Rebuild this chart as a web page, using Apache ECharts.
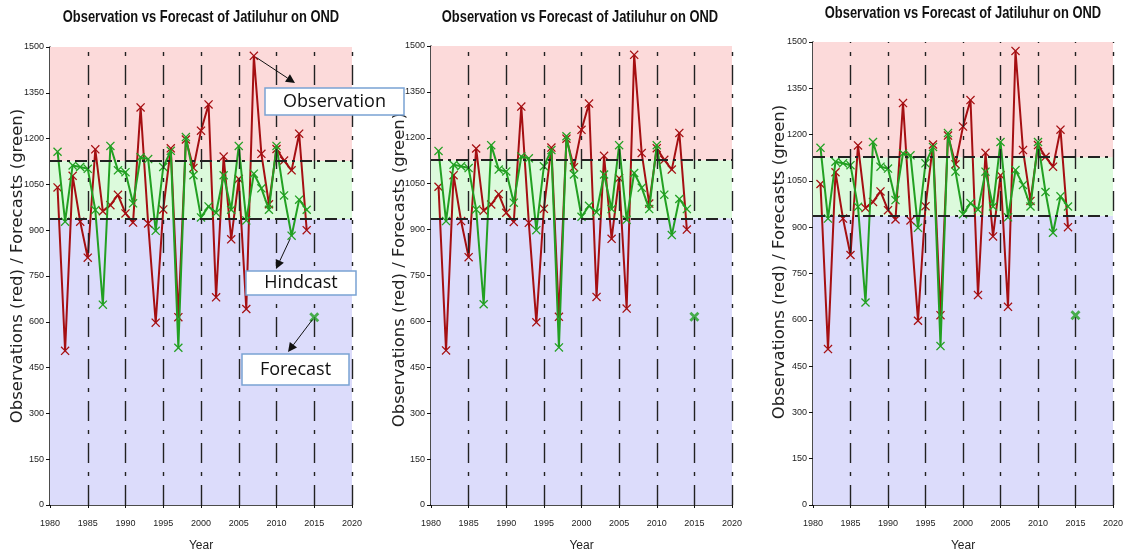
<!DOCTYPE html>
<html><head><meta charset="utf-8">
<script src="https://cdn.jsdelivr.net/npm/echarts@6/dist/echarts.min.js"></script>
<style>html,body{margin:0;padding:0;background:#fff}#c{width:1128px;height:557px}</style>
</head><body><div id="c"></div>
<script>
const titleText = 'Observation vs Forecast of Jatiluhur on OND';
const yName = 'Observations (red) / Forecasts (green)';
const xName = 'Year';
const years = [1981,1982,1983,1984,1985,1986,1987,1988,1989,1990,1991,1992,1993,1994,1995,1996,1997,1998,1999,2000,2001,2002,2003,2004,2005,2006,2007,2008,2009,2010,2011,2012,2013,2014];
const observed = [1040,505,1078,928,810,1165,962,982,1016,955,925,1302,922,597,968,1168,615,1197,1104,1226,1312,680,1141,870,1068,642,1471,1150,985,1166,1128,1096,1216,900];
const hindcast = [1157,928,1112,1107,1101,966,656,1176,1096,1090,988,1139,1133,898,1107,1160,515,1205,1080,942,978,957,1080,967,1176,932,1085,1037,967,1176,1014,882,1000,967];
const forecastYear = [2015];
const forecastValue = [615];
const thresholds = [937, 1127];
const yMin = 0, yMax = 1500, yStep = 150;
const xMin = 1980, xMax = 2020, xStep = 5;
const gridLines = [1985,1990,1995,2000,2005,2010,2015,2020];

const panels = [
  {left:50, right:776, top:47, bottom:44, title:201, titleTop:17, nameX:18, nameY:266},
  {left:431, right:396, top:46, bottom:46, title:580, titleTop:17, nameX:400, nameY:270},
  {left:813, right:15, top:42, bottom:50, title:963, titleTop:13, nameX:780, nameY:262}
];

const XSYM = 'path://M1,0L5,4L9,0L10,1L6,5L10,9L9,10L5,6L1,10L0,9L4,5L0,1Z';
const XSYM_B = 'path://M2,0L5,3L8,0L10,2L7,5L10,8L8,10L5,7L2,10L0,8L3,5L0,2Z';
const RED = '#a50f12', GREEN = '#22a022';
const sans = '"Liberation Sans", Arial, sans-serif';

const obsData = years.map((y,i)=>[y, observed[i]]);
const hindData = years.map((y,i)=>[y, hindcast[i]]);
const fcData = forecastYear.map((y,i)=>[y, forecastValue[i]]);

const option = {
  animation:false,
  backgroundColor:'#fff',
  grid: panels.map(p=>({left:p.left, right:p.right, top:p.top, bottom:p.bottom, containLabel:false})),
  xAxis: panels.map((p,i)=>({type:'value', gridIndex:i, min:xMin, max:xMax, interval:xStep,
    name:xName, nameLocation:'middle', nameGap:35,
    nameTextStyle:{fontFamily:sans, fontSize:12, color:'#222'},
    axisLine:{show:true, onZero:false, lineStyle:{color:'#111', width:1.5}},
    axisTick:{show:true, length:3, lineStyle:{color:'#111'}},
    axisLabel:{fontFamily:sans, fontSize:9, color:'#222', margin:14, formatter:v=>String(v)},
    splitLine:{show:false}})),
  yAxis: panels.map((p,i)=>({type:'value', gridIndex:i, min:yMin, max:yMax, interval:yStep,
    axisLine:{show:true, lineStyle:{color:'#111', width:1.5}},
    axisTick:{show:true, length:4, lineStyle:{color:'#111'}},
    axisLabel:{fontFamily:sans, fontSize:9, color:'#222', margin:6, formatter:v=>String(v)},
    splitLine:{show:false}})),
  series: []
};

panels.forEach((p,i)=>{
  option.series.push({
    type:'line', xAxisIndex:i, yAxisIndex:i, data:[], silent:true, z:1,
    markArea:{silent:true, itemStyle:{opacity:1},
      data:[
        [{yAxis:yMin, itemStyle:{color:'#dcdcfb'}},{yAxis:thresholds[0]}],
        [{yAxis:thresholds[0], itemStyle:{color:'#dcfadc'}},{yAxis:thresholds[1]}],
        [{yAxis:thresholds[1], itemStyle:{color:'#fcdada'}},{yAxis:yMax}]
      ]},
    markLine:{silent:true, symbol:['none','none'], label:{show:false},
      data: gridLines.map(x=>({xAxis:x, lineStyle:{color:'#222', width:1.4, type:[20,9,4,9]}}))
        .concat(thresholds.map(t=>({yAxis:t, lineStyle:{color:'#222', width:2, type:[12,5,3,5]}})))}
  });
  option.series.push({
    type:'line', xAxisIndex:i, yAxisIndex:i, data:obsData, z:3,
    lineStyle:{color:RED, width:2}, itemStyle:{color:RED},
    symbol:XSYM, symbolSize:9, showSymbol:true
  });
  option.series.push({
    type:'line', xAxisIndex:i, yAxisIndex:i, data:hindData, z:4,
    lineStyle:{color:GREEN, width:2}, itemStyle:{color:GREEN},
    symbol:XSYM, symbolSize:9, showSymbol:true
  });
  option.series.push({
    type:'scatter', xAxisIndex:i, yAxisIndex:i, data:fcData, z:5,
    itemStyle:{color:GREEN}, symbol:XSYM_B, symbolSize:10
  });
});

const chart = echarts.init(document.getElementById('c'), null, {renderer:'canvas'});
chart.setOption(option);

function px(x,y){ return chart.convertToPixel({gridIndex:0}, [x,y]); }
const peakIdx = observed.indexOf(Math.max(...observed));
const pObs = px(years[peakIdx], observed[peakIdx]);
const hIdx = years.indexOf(2012);
const pHind = px(years[hIdx], hindcast[hIdx]);
const pFc = px(forecastYear[0], forecastValue[0]);

function arrow(from, to){
  const dx = to[0]-from[0], dy = to[1]-from[1];
  const L = Math.hypot(dx,dy), ux = dx/L, uy = dy/L;
  const hl = 9, hw = 4.5;
  const bx = to[0]-ux*hl, by = to[1]-uy*hl;
  return [
    {type:'line', shape:{x1:from[0]+ux*3, y1:from[1]+uy*3, x2:bx, y2:by}, style:{stroke:'#111', lineWidth:1}, z:70},
    {type:'polygon', shape:{points:[to,[bx-uy*hw, by+ux*hw],[bx+uy*hw, by-ux*hw]]}, style:{fill:'#111'}, z:70}
  ];
}
function box(x,y,w,h,text){
  return [
    {type:'rect', shape:{x:x, y:y, width:w, height:h}, style:{fill:'#fff', stroke:'#7aa3d3', lineWidth:1.5}, z:70},
    {type:'text', x:x+w/2, y:y+h/2, style:{text:text, fill:'#111', font:'18px "Open Sans", "Noto Sans", sans-serif', textAlign:'center', textVerticalAlign:'middle'}, z:71}
  ];
}
const texts = [];
panels.forEach(p=>{
  texts.push({type:'text', x:p.title, y:p.titleTop, scaleX:0.76, z:60,
    style:{text:titleText, fill:'#111', font:'bold 17px "Liberation Sans", Arial, sans-serif', textAlign:'center', textVerticalAlign:'middle'}});
  texts.push({type:'text', x:p.nameX, y:p.nameY, rotation:Math.PI/2, z:60,
    style:{text:yName, fill:'#222', font:'16.5px "DejaVu Sans", sans-serif', textAlign:'center', textVerticalAlign:'middle'}});
});
chart.setOption({graphic:[]
  .concat(texts)
  .concat(arrow(pObs,[295,83]))
  .concat(arrow(pHind,[276,269]))
  .concat(arrow(pFc,[288,352]))
  .concat(box(265,88,139,27,'Observation'))
  .concat(box(246,271,110,24,'Hindcast'))
  .concat(box(242,354,107,31,'Forecast'))
});
</script></body></html>
